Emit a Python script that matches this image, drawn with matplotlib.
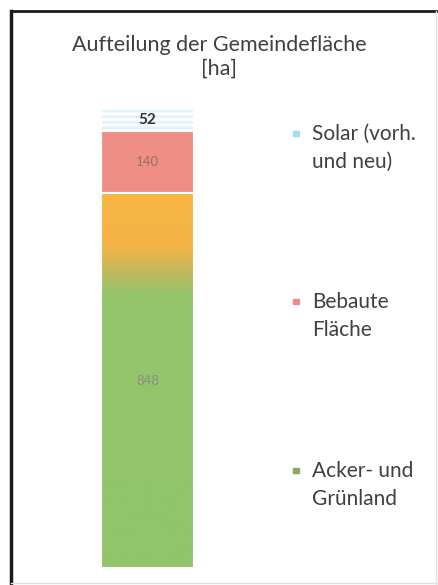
import numpy as np
import matplotlib
matplotlib.use("Agg")
import matplotlib.pyplot as plt
from matplotlib.colors import LinearSegmentedColormap
from matplotlib.lines import Line2D

plt.rcParams['font.family'] = ['Lato', 'DejaVu Sans']
plt.rcParams['hatch.color'] = '#a6d4ee'
plt.rcParams['hatch.linewidth'] = 2.0

# Daten
categories = ["Acker- und\nGrünland", "Bebaute\nFläche", "Solar (vorh.\nund neu)"]
values = [848, 140, 52]
title = "Aufteilung der Gemeindefläche\n[ha]"

fig = plt.figure(figsize=(4.39, 5.85), dpi=100)
ax = fig.add_axes([0.2196, 0.029, 0.2330, 0.786])

bottom = 0
bars = []
for i, v in enumerate(values):
    b = ax.bar(0, v, width=1.0, bottom=bottom, edgecolor='white', linewidth=1.5)[0]
    bars.append(b)
    bottom += v

# Acker/Grünland: Farbverlauf orange -> grün
green_bar = bars[0]
green_bar.set_facecolor('none')
cmap = LinearSegmentedColormap.from_list(
    'og', [(0.0, '#92c46c'), (0.73, '#95c46c'), (0.80, '#c8b85a'),
           (0.86, '#f4b446'), (1.0, '#f7b442')])
grad = np.linspace(0, 1, 256).reshape(-1, 1)
x0, w = green_bar.get_x(), green_bar.get_width()
y0, h = green_bar.get_y(), green_bar.get_height()
im = ax.imshow(grad, extent=[x0, x0 + w, y0, y0 + h], origin='lower',
               aspect='auto', cmap=cmap, zorder=1)
im.set_clip_path(green_bar)
green_bar.set_zorder(2)

ax.set_xlim(-0.55, 0.55)
ax.set_ylim(0, sum(values))
ax.axis('off')

# Bebaute Fläche
bars[1].set_facecolor('#ef8e84')

# Solar: hell-blau gestrichelt
bars[2].set_facecolor('#e2f1fa')
bars[2].set_hatch('---')

# Beschriftungen
label_colors = ['#8a8f85', '#9b6d68', '#333333']
label_weights = ['normal', 'normal', 'bold']
label_sizes = [9.5, 9.5, 11]
for b, v, c, wt, fs in zip(bars, values, label_colors, label_weights, label_sizes):
    ax.text(0, b.get_y() + b.get_height() / 2, str(v), ha='center', va='center',
            fontsize=fs, color=c, fontweight=wt, zorder=5)

# Titel
fig.text(0.5, 0.903, title, ha='center', va='center', fontsize=15.5,
         color='#404040', linespacing=1.25)

# Legende
legend_y = [0.171, 0.460, 0.747]
legend_colors = ['#8fa860', '#ec8c89', '#aadcf1']
for cat, y, c in zip(categories, legend_y, legend_colors):
    fig.text(0.711, y, cat, ha='left', va='center', fontsize=15,
             color='#404040', linespacing=1.5)
    fig.patches.append(plt.Rectangle((0.668, y + 0.020), 0.012, 0.009,
                                     transform=fig.transFigure, color=c))

# Rahmen
fig.add_artist(Line2D([0.025, 0.025], [0.0, 0.982], color='#1a1a1a', lw=2.5,
                      transform=fig.transFigure))
fig.add_artist(Line2D([0.025, 1.0], [0.982, 0.982], color='#1a1a1a', lw=2.0,
                      transform=fig.transFigure))
fig.add_artist(Line2D([0.993, 0.993], [0.0, 0.982], color='#e0e0e0', lw=1,
                      transform=fig.transFigure))
fig.add_artist(Line2D([0.025, 0.993], [0.003, 0.003], color='#e0e0e0', lw=1,
                      transform=fig.transFigure))

fig.savefig('out.png', dpi=100)
